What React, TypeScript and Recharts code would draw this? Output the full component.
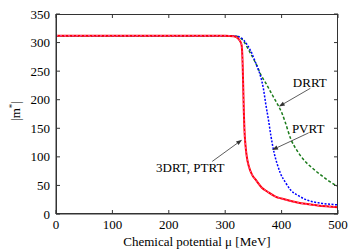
import React from 'react';
import {
  LineChart,
  Line,
  XAxis,
  YAxis,
  ReferenceLine,
  ReferenceDot
} from 'recharts';

// 3DRT / PTRT (red + magenta overlay)
const muRed = [0, 300, 315, 322, 326, 329, 330, 331, 332, 333, 334, 336, 338, 342, 348, 354, 365, 375, 390, 400, 428, 464, 500];
const mRed = [312, 312, 311, 308, 303, 296, 285, 260, 220, 180, 150, 120, 102, 83, 68, 60, 46, 39, 30, 27, 20, 15, 12];

// PVRT (blue)
const muBlue = [0, 300, 320, 327, 333, 339, 345, 351, 357, 363, 368, 372, 377, 381, 387, 392, 398, 407, 416, 430, 446, 470, 500];
const mBlue = [312, 312, 311, 309, 304, 296, 286, 272, 257, 240, 218, 192, 163, 137, 106, 88, 71, 55, 42, 32, 24, 19, 16];

// DRRT (green)
const muGreen = [0, 300, 320, 327, 333, 339, 345, 351, 357, 363, 372, 381, 390, 395, 400, 406, 416, 428, 440, 455, 470, 485, 500];
const mGreen = [312, 312, 311, 308, 302, 292, 281, 270, 258, 244, 229, 213, 197, 188, 178, 162, 132, 110, 94, 80, 68, 57, 48];

const xTicks = [0, 100, 200, 300, 400, 500];
const yTicks = [0, 50, 100, 150, 200, 250, 300, 350];
const xDomain = [0, 500];
const yDomain = [0, 350];

const toRows = (mu: number[], m: number[]) => mu.map((x, i) => ({ mu: x, m: m[i] }));

const redData = toRows(muRed, mRed);
const blueData = toRows(muBlue, mBlue);
const greenData = toRows(muGreen, mGreen);

const W = 358;
const H = 251;
const MARGIN = { top: 14, right: 20, bottom: 0, left: 0 };
const Y_AXIS_W = 56;
const X_AXIS_H = 37;

const FONT = "'Liberation Serif', 'Times New Roman', serif";
const AXIS = '#333';
const txt = { fontFamily: FONT, fontSize: 13, fill: '#000' };

const XTick = (props: any) => {
  const { x, y, payload } = props;
  return (
    <text x={x} y={y} dy={10} textAnchor="middle" style={txt}>
      {payload.value}
    </text>
  );
};

const YTick = (props: any) => {
  const { x, y, payload } = props;
  return (
    <text x={x} y={y} dy={4.5} textAnchor="end" style={txt}>
      {payload.value}
    </text>
  );
};

const Arrow = (props: any) => {
  const { x1, y1, x2, y2 } = props;
  if ([x1, y1, x2, y2].some(v => v == null || isNaN(v))) return null;
  const ang = Math.atan2(y2 - y1, x2 - x1);
  const len = 6;
  const w = 2.2;
  const bx = x2 - len * Math.cos(ang);
  const by = y2 - len * Math.sin(ang);
  const px = -Math.sin(ang) * w;
  const py = Math.cos(ang) * w;
  return (
    <g>
      <line x1={x1} y1={y1} x2={bx} y2={by} stroke="#333" strokeWidth={0.8} />
      <polygon points={`${x2},${y2} ${bx + px},${by + py} ${bx - px},${by - py}`} fill="#333" />
    </g>
  );
};

const textLabel = (value: string) => (props: any) => {
  const { viewBox } = props;
  if (!viewBox) return null;
  return (
    <text x={viewBox.x} y={viewBox.y} dy={4.5} textAnchor="middle" style={txt}>{value}</text>
  );
};

const XLabel = (props: any) => {
  const { viewBox } = props;
  if (!viewBox) return null;
  return (
    <text x={viewBox.x + viewBox.width / 2} y={viewBox.y + viewBox.height - 5}
      textAnchor="middle" style={txt}>Chemical potential μ [MeV]</text>
  );
};

const YLabel = () => (
  <text transform="translate(20,111) rotate(-90)" textAnchor="middle" style={txt}>
    |m<tspan dy={-5} fontSize={9}>*</tspan><tspan dy={5}>|</tspan>
  </text>
);

// box frame with inward ticks (gnuplot style), laid over the plot area
function Frame() {
  const left = MARGIN.left + Y_AXIS_W;
  const right = W - MARGIN.right;
  const top = MARGIN.top;
  const bottom = H - MARGIN.bottom - X_AXIS_H;
  const sx = (v: number) => left + ((v - xDomain[0]) / (xDomain[1] - xDomain[0])) * (right - left);
  const sy = (v: number) => bottom - ((v - yDomain[0]) / (yDomain[1] - yDomain[0])) * (bottom - top);
  const t = 4;
  return (
    <svg width={W} height={H} style={{ position: 'absolute', left: 0, top: 0, pointerEvents: 'none' }}>
      <rect x={left + 0.5} y={top + 0.5} width={right - left - 1} height={bottom - top - 1}
        fill="none" stroke={AXIS} strokeWidth={1} />
      {xTicks.map(v => (
        <g key={`x${v}`}>
          <line x1={sx(v)} x2={sx(v)} y1={bottom} y2={bottom - t} stroke={AXIS} />
          <line x1={sx(v)} x2={sx(v)} y1={top} y2={top + t} stroke={AXIS} />
        </g>
      ))}
      {yTicks.map(v => (
        <g key={`y${v}`}>
          <line x1={left} x2={left + t} y1={sy(v)} y2={sy(v)} stroke={AXIS} />
          <line x1={right} x2={right - t} y1={sy(v)} y2={sy(v)} stroke={AXIS} />
        </g>
      ))}
    </svg>
  );
}

export default function App() {
  return (
    <div style={{ position: 'absolute', left: 0, top: 0, width: W, height: H, background: '#fff' }}>
      <LineChart width={W} height={H} margin={MARGIN}>
        <XAxis dataKey="mu" type="number" domain={xDomain} ticks={xTicks}
          allowDataOverflow height={X_AXIS_H} tickLine={false} tickSize={0} tickMargin={5}
          axisLine={{ stroke: AXIS }} tick={<XTick />} label={<XLabel />} />
        <YAxis type="number" domain={yDomain} ticks={yTicks} allowDataOverflow
          width={Y_AXIS_W} tickLine={false} tickSize={0} tickMargin={6}
          axisLine={{ stroke: AXIS }} tick={<YTick />} label={<YLabel />} />

        <Line data={greenData} dataKey="m" type="monotone"
          stroke="#1a7a1a" strokeWidth={1.5} strokeDasharray="3 2" dot={false} isAnimationActive={false} />
        <Line data={blueData} dataKey="m" type="monotone"
          stroke="#0000ff" strokeWidth={1.5} strokeDasharray="2 1.5" dot={false} isAnimationActive={false} />
        <Line data={redData} dataKey="m" type="monotone"
          stroke="#ff0000" strokeWidth={2} dot={false} isAnimationActive={false} />
        <Line data={redData} dataKey="m" type="monotone"
          stroke="#ff66dd" strokeWidth={0.8} strokeDasharray="2 2" dot={false} isAnimationActive={false} />

        <ReferenceLine segment={[{ x: 451, y: 220 }, { x: 395, y: 188 }]} shape={Arrow} ifOverflow="visible" />
        <ReferenceLine segment={[{ x: 448, y: 142 }, { x: 383, y: 112 }]} shape={Arrow} ifOverflow="visible" />
        <ReferenceLine segment={[{ x: 277, y: 92 }, { x: 330, y: 130 }]} shape={Arrow} ifOverflow="visible" />

        <ReferenceDot x={450} y={230} r={0} stroke="none" label={textLabel('DRRT')} ifOverflow="visible" />
        <ReferenceDot x={447} y={149} r={0} stroke="none" label={textLabel('PVRT')} ifOverflow="visible" />
        <ReferenceDot x={238} y={81} r={0} stroke="none" label={textLabel('3DRT, PTRT')} ifOverflow="visible" />
      </LineChart>
      <Frame />
    </div>
  );
}
